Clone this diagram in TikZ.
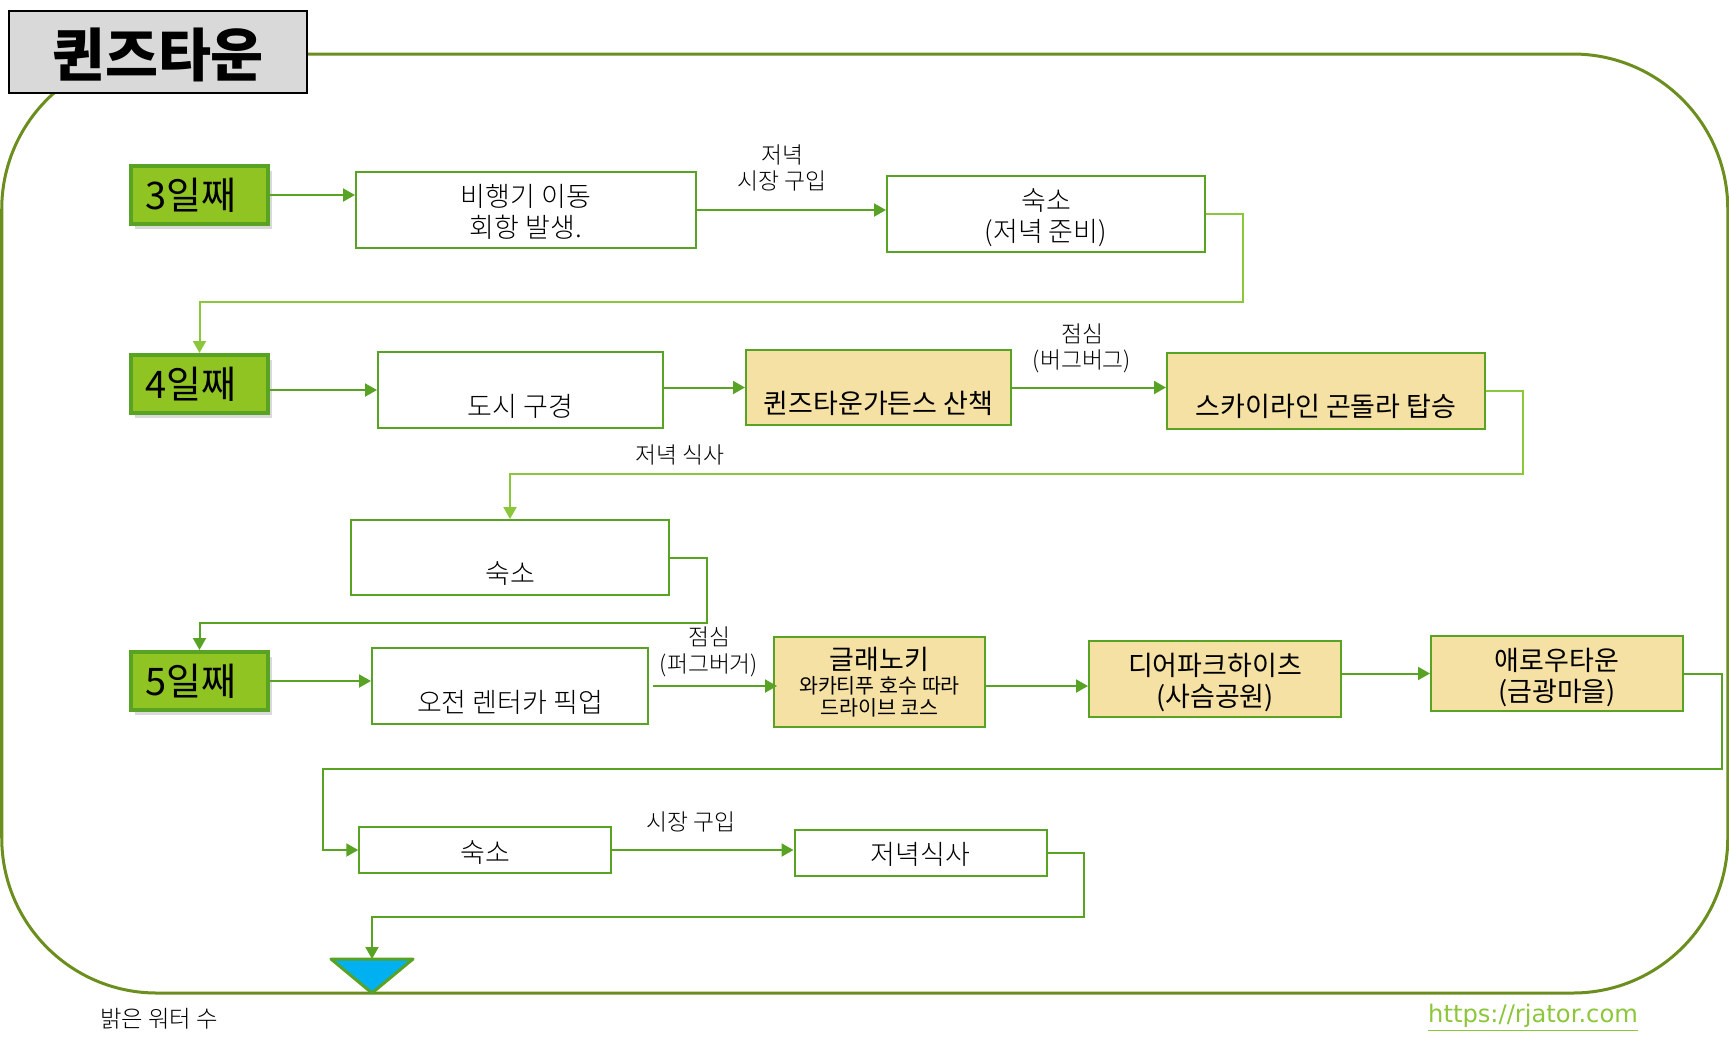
\documentclass[tikz,border=0pt]{standalone}
\usepackage{fontspec}
\setmainfont{Noto Sans CJK KR Light}
\newfontfamily\spotfont{Noto Sans CJK KR}
\newfontfamily\titlefont{Noto Sans CJK KR Black}
\newfontfamily\urlfont{DejaVu Sans}
\usetikzlibrary{arrows.meta,shadows}
\definecolor{framegreen}{HTML}{6B8E1E}
\definecolor{edgegreen}{HTML}{58A324}
\definecolor{lightgreen}{HTML}{8CC63A}
\definecolor{dayfill}{HTML}{90C423}
\definecolor{spotfill}{HTML}{F5E1A4}
\definecolor{endblue}{HTML}{00B0F0}
\newcommand{\lift}[1]{\rule{0pt}{#1pt}}
\tikzstyle{box}=[draw=edgegreen,line width=1pt,inner sep=0pt,align=center,font=\fontsize{13.5}{15.5}\selectfont]
\tikzstyle{stopbox}=[box,fill=white]
\tikzstyle{spotbox}=[box,fill=spotfill,font=\spotfont\fontsize{13.5}{15.5}\selectfont]
\tikzstyle{daybox}=[draw=edgegreen,line width=2pt,fill=dayfill,minimum width=68.5pt,minimum height=29pt,inner sep=0pt,text width=54pt,align=left,font=\spotfont\fontsize{19}{22}\selectfont,drop shadow={shadow xshift=2pt,shadow yshift=-2.5pt,opacity=.3}]
\tikzstyle{edge}=[draw=edgegreen,line width=1pt,-{Triangle[length=6pt,width=6.5pt]}]
\tikzstyle{lightedge}=[edge,draw=lightgreen,-{Triangle[length=6pt,width=6.5pt,fill=lightgreen]}]
\tikzstyle{note}=[align=center,font=\fontsize{11.4}{13.3}\selectfont]

\begin{document}
\begin{tikzpicture}[x=0.5pt,y=-0.5pt]
    \useasboundingbox (0,0) rectangle (1729,1051);

    \node[draw=framegreen,line width=1.5pt,rounded corners=77.5pt,minimum width=863pt,minimum height=469.5pt] (frame) at (864.75,523.5) {};
    \node[draw=black,line width=1.2pt,fill=black!15,minimum width=149pt,minimum height=41pt,inner sep=0pt,font=\titlefont\fontsize{28.8}{30}\selectfont] (title) at (158,52) {\lift{27.5}퀸즈타운};

    \foreach \y/\name/\txt in {195/dayA/3일째, 384/dayB/4일째, 681/dayC/5일째}
        \node[daybox] (\name) at (199.5,\y) {\txt};

    \foreach \x/\y/\w/\h/\name/\txt in {526/210/340/76/flight/{\lift{13}비행기 이동\\회항 발생.},
        1046/214/318/76/lodgeA/{\lift{15}숙소\\(저녁 준비)},
        520.5/390/285/76/city/{\lift{11.5}\\도시 구경},
        510/557.5/318/75/lodgeB/{\lift{11.5}\\숙소},
        510/686/276/76/rental/{\lift{11.5}\\오전 렌터카 픽업},
        485/850/251.5/46/lodgeC/{\lift{13}숙소},
        920.5/853/252/46/dinner/{\lift{12.5}저녁식사}}
        \node[stopbox,minimum width=\w*0.5pt,minimum height=\h*0.5pt] (\name) at (\x,\y) {\txt};

    \foreach \x/\y/\w/\h/\name/\txt in {878.5/387.5/265/75/garden/{\lift{11.5}\\퀸즈타운가든스 산책},
        1326/391/318/76/gondola/{\lift{11.5}\\스카이라인 곤돌라 탑승},
        879.5/682/211/90/glenorchy/{글래노키\\[-3.6pt]{\fontsize{10.3}{12}\selectfont 와카티푸 호수 따라}\\[-4.6pt]{\fontsize{10.3}{12}\selectfont 드라이브 코스}},
        1215/679/252/76/deerpark/{\lift{15}디어파크하이츠\\(사슴공원)},
        1557/673.5/252/75/arrowtown/{\lift{15}애로우타운\\(금광마을)}}
        \node[spotbox,minimum width=\w*0.5pt,minimum height=\h*0.5pt] (\name) at (\x,\y) {\txt};

    \coordinate (turnA) at (1243,302);
    \coordinate (turnB) at (1523,474);
    \coordinate (turnC) at (707,623);
    \coordinate (turnD) at (1722,769);
    \coordinate (turnE) at (323,769);
    \coordinate (turnF) at (1084,917);
    \coordinate (endtop) at (372,959);
    \coordinate (endleft) at (331,959);
    \coordinate (endright) at (413,959);
    \coordinate (endtip) at (372,993);

    \draw[line width=1.5pt,draw=edgegreen,fill=endblue,line join=round] (endleft) -- (endright) -- (endtip) -- cycle;

    \foreach \source/\dest in {dayA/flight, flight/lodgeA, garden/gondola, dayC/rental, lodgeC/dinner}
        \path[edge] (\source.east) -- (\source.east -| \dest.west);

    \path[edge] (dayB.east |- city.west) -- (city.west);
    \path[edge] (city.east |- garden.west) -- (garden.west);
    \path[edge,shorten >=-2pt] ([xshift=2pt]rental.east) -- (glenorchy.west |- rental.east);
    \path[edge] (glenorchy.east |- rental.east) -- (deerpark.west |- rental.east);
    \path[edge] (deerpark.east |- arrowtown.west) -- (arrowtown.west);

    \path[lightedge] (lodgeA.east) -| (turnA) -| (dayB.north);
    \path[lightedge] (gondola.east) -| (turnB) -| (lodgeB.north);
    \path[edge] (lodgeB.east) -| (turnC) -| (dayC.north);
    \path[edge] (arrowtown.east) -| (turnD) -- (turnE) |- (lodgeC.west);
    \path[edge] (dinner.east) -| (turnF) -| (endtop);

    \node[note] (noteA) at (782,168) {저녁\\시장 구입};
    \node[note] (noteB) at (1082,348.5) {점심\\(버그버그)};
    \node[note] (noteC) at (680,455) {저녁 식사};
    \node[note] (noteD) at (709,652) {점심\\(퍼그버거)};
    \node[note] (noteE) at (691,822) {시장 구입};
    \node[note,font=\fontsize{11.7}{14}\selectfont] (brand) at (159,1019) {밝은 워터 수};
    \node[text=lightgreen,font=\urlfont\fontsize{12.1}{14}\selectfont] (site) at (1533,1018) {\underline{https://rjator.com}};
\end{tikzpicture}
\end{document}
